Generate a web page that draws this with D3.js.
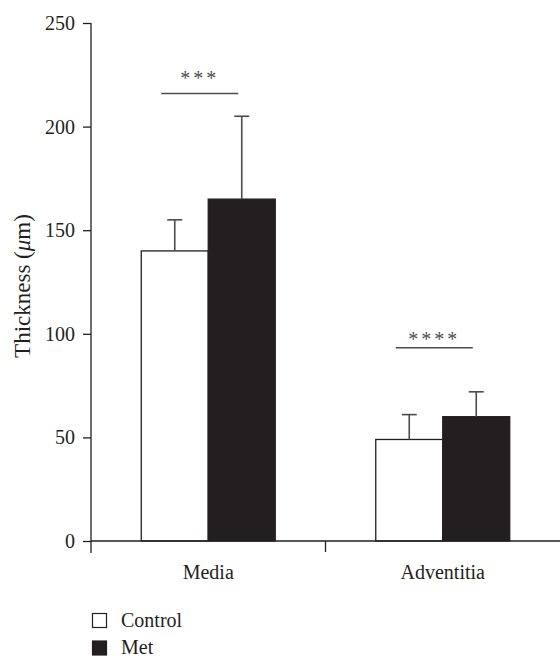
<!DOCTYPE html>
<html>
<head>
<meta charset="utf-8">
<script src="https://cdn.jsdelivr.net/npm/d3@7"></script>
<style>
    body { margin: 0; background: #fff; }
    svg text { font-family: "Liberation Serif", "Times New Roman", Times, "DejaVu Serif", serif !important; fill: #231f20; }
</style>
</head>
<body>
<div id="chart-wrapper"></div>
<script>
// values
const groups = ["Media", "Adventitia"];
const series = ["Control", "Met"];
const means = [[140, 165], [49, 60]];
const errors = [[155, 205], [61, 72]];   // top of each error bar
const yTicks = [0, 50, 100, 150, 200, 250];
// significance marks: label, line height, star height (data units)
const sigLabels = ["***", "****"];
const sigLine = [216, 93.3];
const sigText = [225, 98.7];

const W = 560, H = 656;
const ink = "#231f20";
const serif = '"Liberation Serif", "Times New Roman", Times, "DejaVu Serif", serif';

let svg = d3.select("#chart-wrapper")
    .append("svg")
    .attr("width", W)
    .attr("height", H)
    .attr("font-family", serif);

let x0 = d3.scaleBand().domain(groups).range([91, 560]);
let barW = 67;
let x1 = d3.scaleBand().domain(series)
    .range([x0.bandwidth() / 2 - barW, x0.bandwidth() / 2 + barW]);
let y = d3.scaleLinear().domain([0, 250]).range([541, 23]);
let fill = d3.scaleOrdinal().domain(series).range(["#ffffff", ink]);

let rows = [];
groups.forEach((g, i) => series.forEach((s, j) => {
    rows.push({ group: g, series: s, value: means[i][j], err: errors[i][j] });
}));

// bars
svg.append("g").selectAll("rect")
    .data(rows)
    .join("rect")
    .attr("x", d => x0(d.group) + x1(d.series))
    .attr("y", d => y(d.value))
    .attr("width", x1.bandwidth())
    .attr("height", d => y(0) - y(d.value))
    .attr("fill", d => fill(d.series))
    .attr("stroke", ink)
    .attr("stroke-width", 1.3);

// error bars (upper only)
let eb = svg.append("g")
    .attr("stroke", "#4d4b4c")
    .attr("stroke-width", 1.6);
let cx = d => x0(d.group) + x1(d.series) + x1.bandwidth() / 2;
eb.selectAll("line.v")
    .data(rows)
    .join("line")
    .attr("class", "v")
    .attr("x1", cx).attr("x2", cx)
    .attr("y1", d => y(d.value))
    .attr("y2", d => y(d.err));
eb.selectAll("line.cap")
    .data(rows)
    .join("line")
    .attr("class", "cap")
    .attr("x1", d => cx(d) - 7.5)
    .attr("x2", d => cx(d) + 7.5)
    .attr("y1", d => y(d.err))
    .attr("y2", d => y(d.err));

// y axis
let yAxis = svg.append("g")
    .attr("transform", "translate(91,0)")
    .call(d3.axisLeft(y).tickValues(yTicks).tickSize(8).tickSizeOuter(0).tickPadding(8));
yAxis.attr("font-family", serif);
yAxis.select(".domain").remove();
yAxis.selectAll(".tick line").attr("stroke", ink).attr("stroke-width", 1.3);
yAxis.selectAll(".tick text")
    .attr("font-size", 20)
    .attr("fill", ink);
svg.append("line")
    .attr("x1", 91).attr("x2", 91)
    .attr("y1", y(250)).attr("y2", y(0) + 12)
    .attr("stroke", ink).attr("stroke-width", 1.3);

// x axis
svg.append("line")
    .attr("x1", 91).attr("x2", 560)
    .attr("y1", y(0)).attr("y2", y(0))
    .attr("stroke", ink).attr("stroke-width", 1.3);
svg.append("line")
    .attr("x1", x0("Adventitia")).attr("x2", x0("Adventitia"))
    .attr("y1", y(0)).attr("y2", y(0) + 11)
    .attr("stroke", ink).attr("stroke-width", 1.3);
svg.append("g").selectAll("text")
    .data(groups)
    .join("text")
    .attr("x", d => x0(d) + x0.bandwidth() / 2)
    .attr("y", y(0) + 38)
    .attr("text-anchor", "middle")
    .attr("font-size", 20)
    .text(d => d);

// y label
svg.append("text")
    .attr("transform", "translate(30,286) rotate(-90)")
    .attr("text-anchor", "middle")
    .attr("font-size", 23)
    .html('Thickness (<tspan font-style="italic">μ</tspan>m)');

// significance
let sig = svg.append("g");
groups.forEach((g, i) => {
    let c = x0(g) + x0.bandwidth() / 2;
    sig.append("line")
        .attr("x1", c - 47).attr("x2", c + 30)
        .attr("y1", y(sigLine[i])).attr("y2", y(sigLine[i]))
        .attr("stroke", "#4d4b4c").attr("stroke-width", 1.6);
    sig.append("text")
        .attr("x", c - 8.5)
        .attr("y", y(sigText[i]) + 10)
        .attr("text-anchor", "middle")
        .attr("font-size", 20)
        .attr("letter-spacing", 3)
        .style("fill", "#4d4b4c")
        .text(sigLabels[i]);
});

// legend
let leg = svg.append("g");
series.forEach((s, i) => {
    leg.append("rect")
        .attr("x", 92.5).attr("y", 613.5 + i * 27.5)
        .attr("width", 14).attr("height", 14)
        .attr("fill", fill(s))
        .attr("stroke", ink).attr("stroke-width", 1.2);
    leg.append("text")
        .attr("x", 121).attr("y", 627 + i * 26.5)
        .attr("font-size", 20)
        .text(s);
});
</script>
</body>
</html>
